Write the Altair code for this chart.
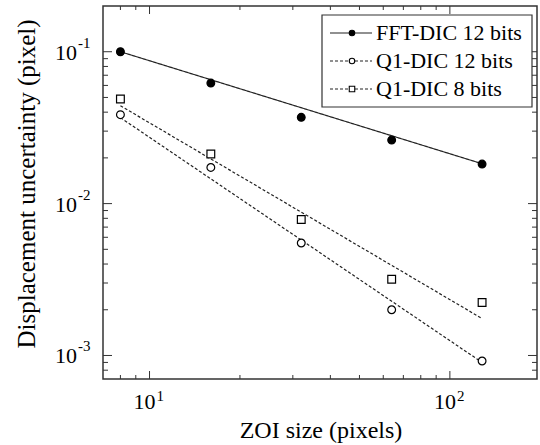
import altair as alt
import pandas as pd

# ---- data ----
series_names = ["FFT-DIC 12 bits", "Q1-DIC 12 bits", "Q1-DIC 8 bits"]
zoi_sizes = [8, 16, 32, 64, 128]
fft_12 = [0.100, 0.0622, 0.0370, 0.0262, 0.0182]
q1_12 = [0.0385, 0.0173, 0.0055, 0.0020, 0.00092]
q1_8 = [0.0489, 0.0212, 0.00785, 0.00318, 0.00223]

# fitted power-law lines (end points)
fit_x = [8, 128]
fft_12_fit = [0.100, 0.0183]
q1_12_fit = [0.0368, 0.00090]
q1_8_fit = [0.0441, 0.00175]

# axis ticks and tick labels (base and exponent)
x_major = [10, 100]
x_label_base = ["10", "10"]
x_label_exp = ["1", "2"]
x_minor = [8, 9, 20, 30, 40, 50, 60, 70, 80, 90]
y_major = [0.001, 0.01, 0.1]
y_label_base = ["10", "10", "10"]
y_label_exp = ["-3", "-2", "-1"]
y_minor = [0.0008, 0.0009, 0.002, 0.003, 0.004, 0.005, 0.006, 0.007, 0.008, 0.009,
           0.02, 0.03, 0.04, 0.05, 0.06, 0.07, 0.08, 0.09]
x_title = "ZOI size (pixels)"
y_title = "Displacement uncertainty (pixel)"

# ---- tables ----
pts = pd.DataFrame(
    [(s, x, y) for s, vals in zip(series_names, [fft_12, q1_12, q1_8]) for x, y in zip(zoi_sizes, vals)],
    columns=["series", "x", "y"])
fits = pd.DataFrame(
    [(s, x, y) for s, vals in zip(series_names, [fft_12_fit, q1_12_fit, q1_8_fit]) for x, y in zip(fit_x, vals)],
    columns=["series", "x", "y"])
legend_df = pd.DataFrame({"series": series_names})
xlab_df = pd.DataFrame({"x": x_major, "base": x_label_base, "exp": x_label_exp})
ylab_df = pd.DataFrame({"y": y_major, "base": y_label_base, "exp": y_label_exp})

FONT = "Liberation Serif"
W, H = 434, 373
INK = "#222222"

xs = alt.Scale(type="log", domain=[7, 195])
ys = alt.Scale(type="log", domain=[0.0007, 0.2])
dash_scale = alt.Scale(domain=series_names, range=[[1, 0], [3, 2], [3, 2]])
shape_scale = alt.Scale(domain=series_names, range=["circle", "circle", "square"])
fill_scale = alt.Scale(domain=series_names, range=["black", "white", "white"])

X = lambda f: alt.X(f, scale=xs, axis=None)
Y = lambda f: alt.Y(f, scale=ys, axis=None)

lines = alt.Chart(fits).mark_line(color=INK, strokeWidth=1.2, clip=True).encode(
    x=X("x:Q"), y=Y("y:Q"),
    detail="series:N",
    strokeDash=alt.StrokeDash("series:N", scale=dash_scale, legend=None),
)

points = alt.Chart(pts).mark_point(filled=True, stroke="black", strokeWidth=1.2, size=60, opacity=1).encode(
    x=X("x:Q"), y=Y("y:Q"),
    shape=alt.Shape("series:N", scale=shape_scale, legend=None),
    fill=alt.Fill("series:N", scale=fill_scale, legend=None),
)


def xticks(vals, length):
    d = pd.DataFrame({"x": vals})
    bottom = alt.Chart(d).mark_rule(color="#333", strokeWidth=1).encode(
        x=X("x:Q"), y=alt.value(H), y2=alt.value(H - length))
    top = alt.Chart(d).mark_rule(color="#333", strokeWidth=1).encode(
        x=X("x:Q"), y=alt.value(0), y2=alt.value(length))
    return [bottom, top]


def yticks(vals, length):
    d = pd.DataFrame({"y": vals})
    left = alt.Chart(d).mark_rule(color="#333", strokeWidth=1).encode(
        y=Y("y:Q"), x=alt.value(0), x2=alt.value(length))
    right = alt.Chart(d).mark_rule(color="#333", strokeWidth=1).encode(
        y=Y("y:Q"), x=alt.value(W), x2=alt.value(W - length))
    return [left, right]


tick_layers = xticks(x_major, 8) + xticks(x_minor, 4) + yticks(y_major, 9) + yticks(y_minor, 5)

# tick labels as text (10 with superscript exponent)
xl_base = alt.Chart(xlab_df).mark_text(font=FONT, fontSize=22, align="right", baseline="alphabetic",
                                       dx=6, color="black").encode(
    x=X("x:Q"), y=alt.value(H + 30), text="base:N")
xl_exp = alt.Chart(xlab_df).mark_text(font=FONT, fontSize=15, align="left", baseline="alphabetic",
                                      dx=7, color="black").encode(
    x=X("x:Q"), y=alt.value(H + 22), text="exp:N")
yl_base = alt.Chart(ylab_df).mark_text(font=FONT, fontSize=22, align="right", baseline="alphabetic",
                                       dy=8, color="black").encode(
    y=Y("y:Q"), x=alt.value(-26), text="base:N")
yl_exp = alt.Chart(ylab_df).mark_text(font=FONT, fontSize=15, align="left", baseline="alphabetic",
                                      dy=-4, color="black").encode(
    y=Y("y:Q"), x=alt.value(-25), text="exp:N")

one = alt.Data(values=[{"a": 1}])
xt = alt.Chart(one).mark_text(font=FONT, fontSize=24, align="center", baseline="alphabetic",
                              color="black", text=x_title).encode(
    x=alt.value(W / 2 + 1), y=alt.value(H + 59))
yt = alt.Chart(one).mark_text(font=FONT, fontSize=25, align="center", baseline="middle",
                              color="black", angle=270, text=y_title).encode(
    x=alt.value(-76), y=alt.value(178))

main = alt.layer(lines, points, *tick_layers, xl_base, xl_exp, yl_base, yl_exp, xt, yt)

# ---- legend ----
leg_y = alt.Y("series:N", scale=alt.Scale(type="point", domain=series_names, range=[27, 83], padding=0),
              axis=None)
box = alt.Chart(one).mark_rect(fill="white", stroke="#333", strokeWidth=1.2).encode(
    x=alt.value(219), x2=alt.value(429), y=alt.value(9), y2=alt.value(101))
leg_lines = alt.Chart(legend_df).mark_rule(color=INK, strokeWidth=1.2).encode(
    x=alt.value(227), x2=alt.value(269), y=leg_y,
    strokeDash=alt.StrokeDash("series:N", scale=dash_scale, legend=None))
leg_pts = alt.Chart(legend_df).mark_point(filled=True, stroke="black", strokeWidth=1.1, size=30, opacity=1).encode(
    x=alt.value(249), y=leg_y,
    shape=alt.Shape("series:N", scale=shape_scale, legend=None),
    fill=alt.Fill("series:N", scale=fill_scale, legend=None))
leg_text = alt.Chart(legend_df).mark_text(align="left", baseline="middle", font=FONT, fontSize=22,
                                          color="black").encode(
    x=alt.value(273), y=leg_y, text="series:N")
legend = alt.layer(box, leg_lines, leg_pts, leg_text)

chart = alt.layer(main, legend).resolve_scale(y="independent").properties(
    width=W, height=H,
    padding={"left": 103, "top": 6, "right": 3, "bottom": 66},
    autosize=alt.AutoSizeParams(type="none"),
    background="white",
).configure_view(stroke="#333", strokeWidth=1.5)

chart.save("out.html", embed_options={"renderer": "svg", "actions": False})
